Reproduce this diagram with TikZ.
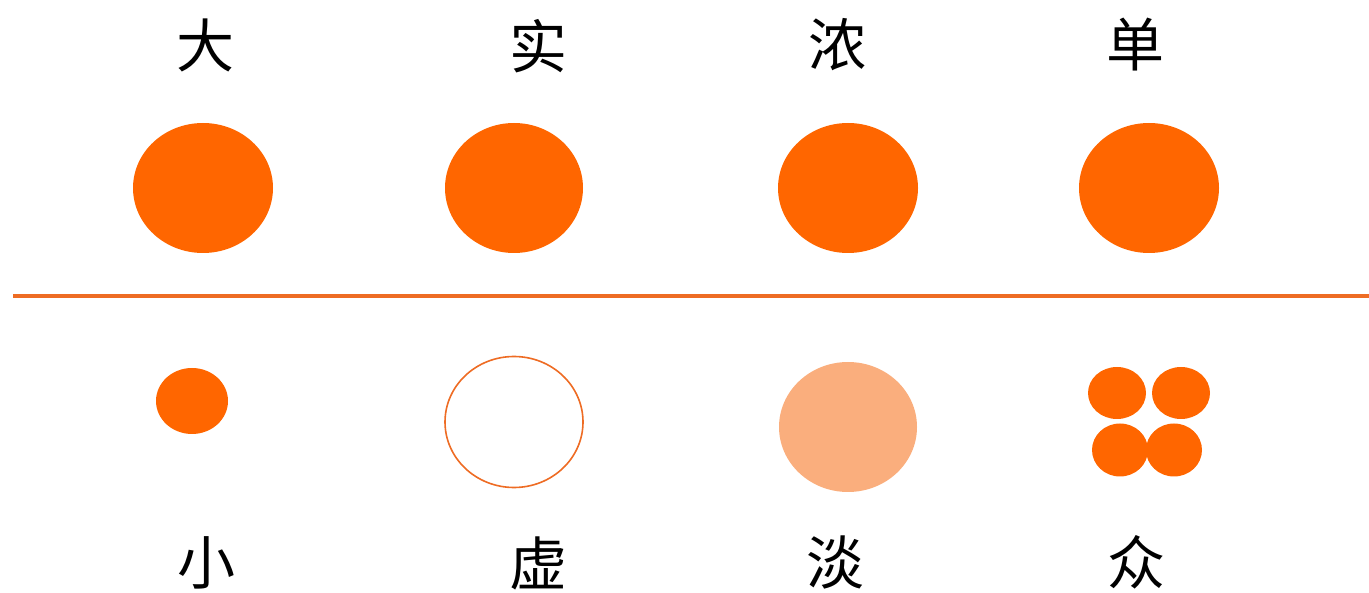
\documentclass[tikz,border=0pt]{standalone}
\usepackage{fontspec}
\newfontfamily\cjk{Noto Sans CJK SC}
\definecolor{orng}{RGB}{255,102,0}
\definecolor{lightorng}{RGB}{250,174,125}
\definecolor{lineorng}{RGB}{238,108,36}
\begin{document}
\begin{tikzpicture}[x=1pt,y=-1pt,
  lbl/.style={font=\cjk\fontsize{58}{60}\selectfont, inner sep=0pt, text=black},
  dot/.style={fill=orng, draw=none}]
\useasboundingbox (0,0) rectangle (1369,593);
% top labels
\node[lbl] (t1) at (205,45) {大};
\node[lbl] (t2) at (538,46) {实};
\node[lbl] (t3) at (837,45) {浓};
\node[lbl] (t4) at (1135,45) {单};
% top circles
\fill[orng] (203,188) ellipse [x radius=70, y radius=65];
\fill[orng] (514,188) ellipse [x radius=69, y radius=65];
\fill[orng] (848,188) ellipse [x radius=70, y radius=65];
\fill[orng] (1149,188) ellipse [x radius=70, y radius=65];
% divider
\coordinate (l1) at (13,296);
\coordinate (l2) at (1369,296);
\draw[lineorng, line width=4.5pt] (l1) -- (l2);
% bottom shapes
\fill[orng] (192,401) ellipse [x radius=36, y radius=33];
\draw[lineorng, line width=1.6pt, fill=white] (514,422) ellipse [x radius=69, y radius=65.5];
\fill[lightorng] (848,427) ellipse [x radius=69, y radius=65];
\fill[orng] (1117,393) ellipse [x radius=29, y radius=26];
\fill[orng] (1181,393) ellipse [x radius=29, y radius=26];
\fill[orng] (1120,450) ellipse [x radius=28, y radius=26.5];
\fill[orng] (1174,450) ellipse [x radius=28, y radius=26.5];
% bottom labels
\node[lbl] (b1) at (206,563) {小};
\node[lbl] (b2) at (538,563) {虚};
\node[lbl] (b3) at (835,562) {淡};
\node[lbl] (b4) at (1136,562) {众};
\end{tikzpicture}
\end{document}
